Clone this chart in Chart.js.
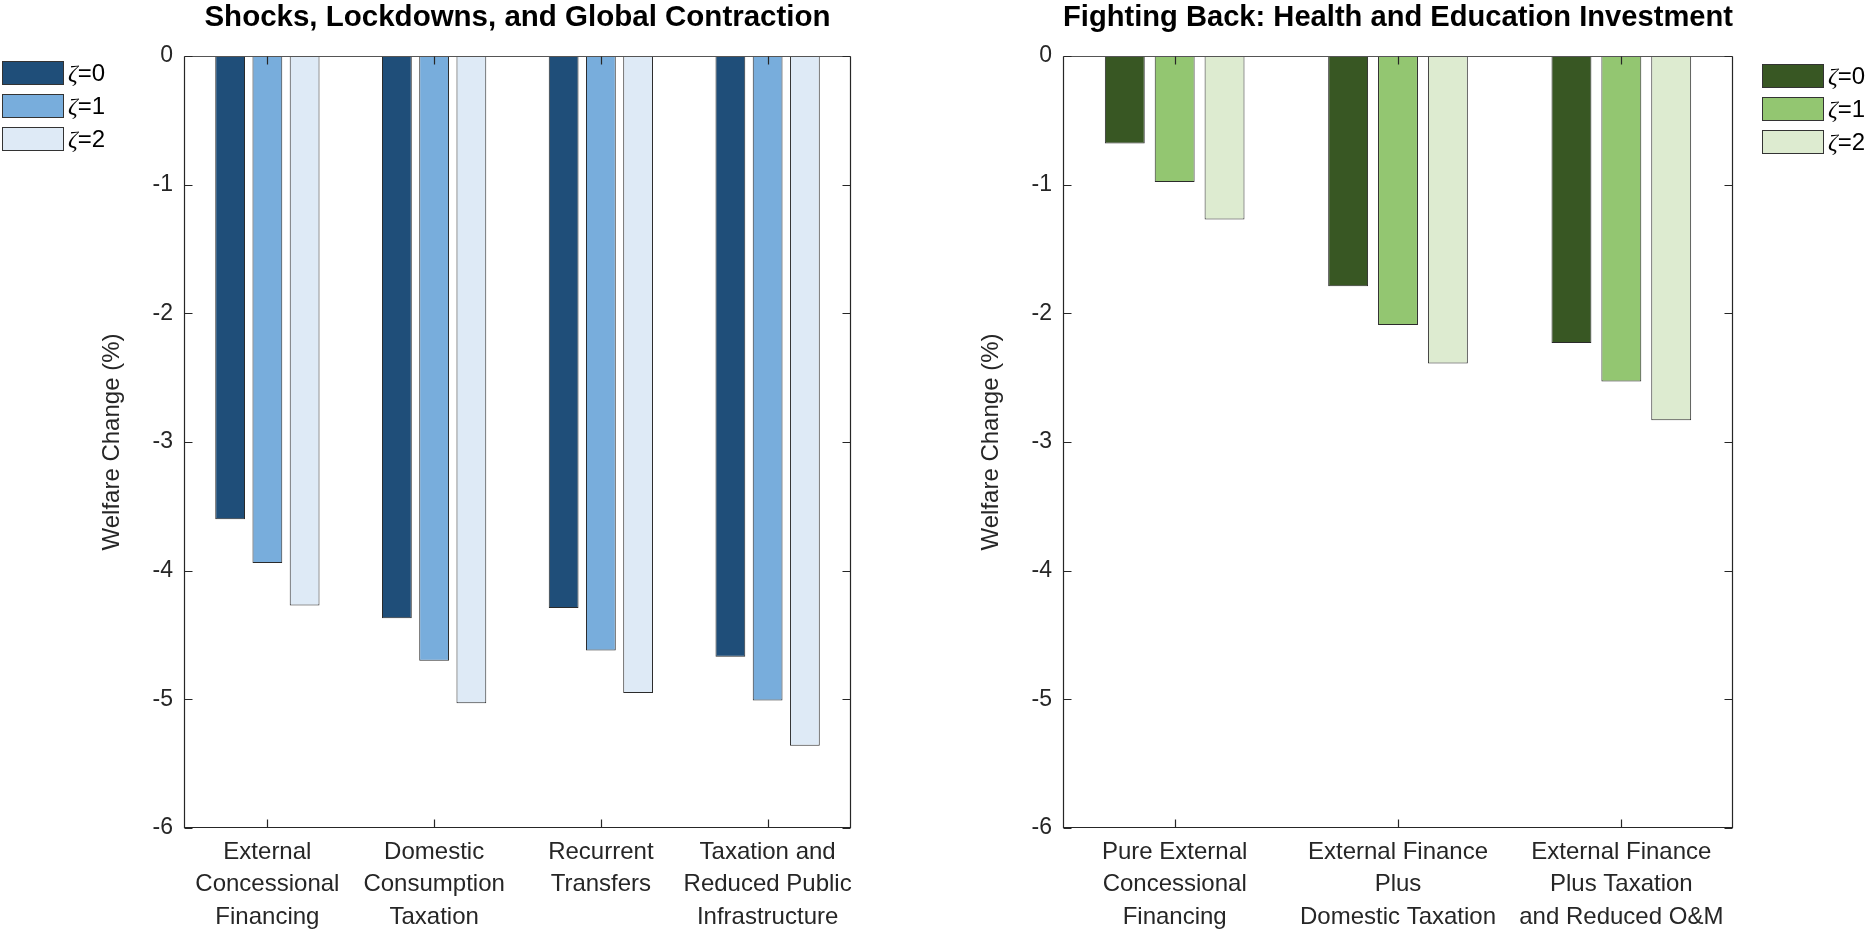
<!DOCTYPE html>
<html>
<head>
<meta charset="utf-8">
<script src="https://cdn.jsdelivr.net/npm/chart.js@4.4.0/dist/chart.umd.min.js"></script>
<style>
  html, body { margin:0; padding:0; background:#fff; width:1870px; height:931px; overflow:hidden;
    font-family:"Liberation Sans", Arial, Helvetica, sans-serif; }
  .wrap { position:absolute; top:0; width:935px; height:931px; }
  canvas { display:block; }
  .leg { position:absolute; height:24px; }
  .leg .sw { position:absolute; left:0; top:0; width:60px; height:22px; border:1px solid #333; }
  .leg .tx { position:absolute; left:66px; top:0; height:24px; line-height:24px; font-size:24px; color:#000; white-space:nowrap; }
  .leg .tx i { font-family:"Liberation Serif", "DejaVu Serif", serif; font-style:italic; }
</style>
</head>
<body>
<div class="wrap" style="left:0"><canvas id="c1" width="935" height="931"></canvas></div>
<div class="wrap" style="left:935px"><canvas id="c2" width="935" height="931"></canvas></div>
<div id="legends"></div>
<script>
// ---------------- data ----------------
const seriesSymbol = 'ζ';
const seriesLevels = ['=0', '=1', '=2'];
const seriesLabels = seriesLevels.map(s => seriesSymbol + s);

const leftTitle = 'Shocks, Lockdowns, and Global Contraction';
const leftCategories = [
  ['External', 'Concessional', 'Financing'],
  ['Domestic', 'Consumption', 'Taxation'],
  ['Recurrent', 'Transfers'],
  ['Taxation and', 'Reduced Public', 'Infrastructure']
];
const leftZeta0 = [-3.60, -4.37, -4.29, -4.67];
const leftZeta1 = [-3.94, -4.70, -4.62, -5.01];
const leftZeta2 = [-4.27, -5.03, -4.95, -5.36];

const rightTitle = 'Fighting Back: Health and Education Investment';
const rightCategories = [
  ['Pure External', 'Concessional', 'Financing'],
  ['External Finance', 'Plus', 'Domestic Taxation'],
  ['External Finance', 'Plus Taxation', 'and Reduced O&M']
];
const rightZeta0 = [-0.68, -1.79, -2.23];
const rightZeta1 = [-0.98, -2.09, -2.53];
const rightZeta2 = [-1.27, -2.39, -2.83];

const yAxisTitle = 'Welfare Change (%)';
const yMin = -6, yMax = 0, yStep = 1;

const blueColors  = ['#1f4e79', '#78addc', '#deeaf6'];
const greenColors = ['#385723', '#93c671', '#ddebd0'];

// ---------------- helpers ----------------
const FONT = '"Liberation Sans", Arial, Helvetica, sans-serif';
const AX = '#262626';

const boxTicks = {
  id: 'boxTicks',
  afterDatasetsDraw(chart) {
    const { ctx, chartArea, scales } = chart;
    const L = Math.round(chartArea.left) + 0.5, R = Math.round(chartArea.right) - 0.5;
    const T = Math.round(chartArea.top) + 0.5, B = Math.round(chartArea.bottom) - 0.5;
    ctx.save();
    ctx.lineWidth = 1.2;
    ctx.strokeStyle = AX;
    ctx.beginPath();
    ctx.moveTo(L, T); ctx.lineTo(L, B); ctx.lineTo(R, B); ctx.lineTo(R, T);
    ctx.stroke();
    ctx.strokeStyle = '#555';
    ctx.beginPath(); ctx.moveTo(L, T); ctx.lineTo(R, T); ctx.stroke();
    ctx.strokeStyle = AX;
    const tl = 8;
    ctx.beginPath();
    scales.y.ticks.forEach(t => {
      const py = Math.round(scales.y.getPixelForValue(t.value)) + 0.5;
      ctx.moveTo(L, py); ctx.lineTo(L + tl, py);
      ctx.moveTo(R, py); ctx.lineTo(R - tl, py);
    });
    scales.x.ticks.forEach((t, i) => {
      const px = Math.round(scales.x.getPixelForValue(i)) + 0.5;
      ctx.moveTo(px, B); ctx.lineTo(px, B - tl);
      ctx.moveTo(px, T); ctx.lineTo(px, T + tl);
    });
    ctx.stroke();
    ctx.restore();
  }
};

function makeChart(canvasId, title, categories, series, colors, areaLeft, areaRight, yTitleCenter) {
  const W = 935;
  const titleSize = 29.5, titleLH = titleSize * 1.2;
  const titlePadTop = 18 - titleLH / 2;
  return new Chart(document.getElementById(canvasId), {
    type: 'bar',
    data: {
      labels: categories,
      datasets: series.map((vals, i) => ({
        label: seriesLabels[i],
        data: vals,
        backgroundColor: colors[i],
        borderColor: '#2b2b2b',
        borderWidth: 1,
        borderSkipped: false,
        categoryPercentage: 0.67,
        barPercentage: 0.8
      }))
    },
    options: {
      responsive: false,
      animation: false,
      events: [],
      layout: { padding: { left: 0, right: W - areaRight, top: 0, bottom: 0 } },
      plugins: {
        legend: { display: false },
        tooltip: { enabled: false },
        title: {
          display: true,
          fullSize: false,
          text: title,
          color: '#000',
          font: { family: FONT, size: titleSize, weight: 'bold', lineHeight: 1.2 },
          padding: { top: titlePadTop, bottom: 56 - titlePadTop - titleLH }
        }
      },
      scales: {
        x: {
          type: 'category',
          grid: { display: false, drawTicks: false },
          border: { display: false },
          ticks: {
            color: AX, autoSkip: false, maxRotation: 0, minRotation: 0, padding: 7.75,
            font: { family: FONT, size: 24, lineHeight: '32.5px' }
          },
          afterFit(scale) { scale.height = 931 - 828; }
        },
        y: {
          min: yMin, max: yMax,
          grid: { display: false, drawTicks: false },
          border: { display: false },
          ticks: {
            stepSize: yStep, color: AX, padding: 11,
            font: { family: FONT, size: 23 }
          },
          title: {
            display: true, text: yAxisTitle, color: AX,
            font: { family: FONT, size: 24, lineHeight: 1.2 },
            padding: { top: yTitleCenter - 14.4, bottom: 0 }
          },
          afterFit(scale) { scale.width = areaLeft; }
        }
      }
    },
    plugins: [boxTicks]
  });
}

makeChart('c1', leftTitle, leftCategories, [leftZeta0, leftZeta1, leftZeta2], blueColors, 184, 851, 112);
makeChart('c2', rightTitle, rightCategories, [rightZeta0, rightZeta1, rightZeta2], greenColors, 128, 798, 56);

// ---------------- HTML legends ----------------
function buildLegend(x, y0, colors) {
  const host = document.getElementById('legends');
  const tops = [0, 33, 66];
  seriesLevels.forEach((lev, i) => {
    const d = document.createElement('div');
    d.className = 'leg';
    d.style.left = x + 'px';
    d.style.top = (y0 + tops[i]) + 'px';
    const sw = document.createElement('div');
    sw.className = 'sw';
    sw.style.background = colors[i];
    const tx = document.createElement('div');
    tx.className = 'tx';
    const sym = document.createElement('i');
    sym.textContent = seriesSymbol;
    tx.appendChild(sym);
    tx.appendChild(document.createTextNode(lev));
    d.appendChild(sw); d.appendChild(tx);
    host.appendChild(d);
  });
}
buildLegend(2, 61, blueColors);
buildLegend(1762, 64, greenColors);
</script>
</body>
</html>
